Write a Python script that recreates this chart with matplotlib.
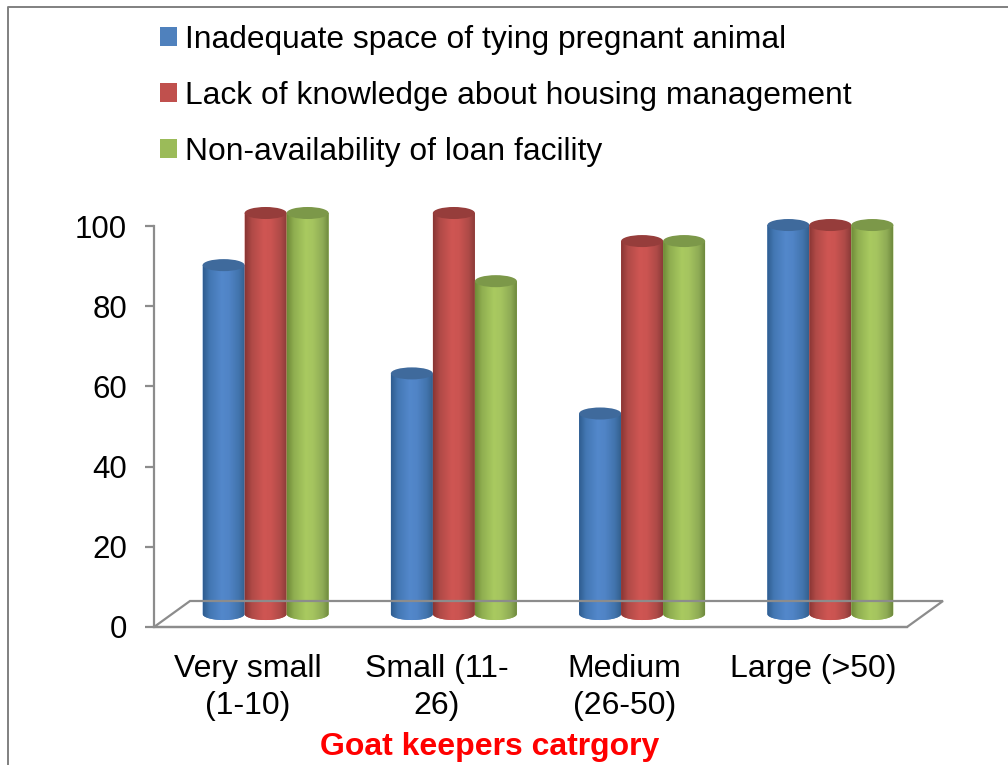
import numpy as np
import matplotlib
matplotlib.use("Agg")
import matplotlib.pyplot as plt
from matplotlib.path import Path
from matplotlib.patches import PathPatch, Patch, Ellipse
from matplotlib.transforms import ScaledTranslation

plt.rcParams['font.family'] = ['Liberation Sans', 'DejaVu Sans']

categories = ["Very small\n(1-10)", "Small (11-\n26)", "Medium\n(26-50)", "Large (>50)"]
series_names = ["Inadequate space of tying pregnant animal",
                "Lack of knowledge about housing management",
                "Non-availability of loan facility"]
inadequate_space = [87, 60, 50, 97]
lack_knowledge = [100, 100, 93, 97]
no_loan = [100, 83, 93, 97]
y_ticks = [0, 20, 40, 60, 80, 100]

series = [inadequate_space, lack_knowledge, no_loan]
solid = ["#4f81bd", "#c0504d", "#9bbb59"]
tops = ["#3f6a9c", "#963d3b", "#7c9849"]
shades = [["#2f5d90", "#4377b3", "#5388cb", "#5084c6", "#4274ad", "#34618f"],
          ["#8a3634", "#b04a47", "#cf5653", "#cb5451", "#ad4a47", "#8c3b39"],
          ["#6f8b38", "#8fae50", "#a9ca60", "#a5c45f", "#8eab55", "#6f8a3e"]]
grey = "#8c8c8c"

W, H = 1008, 765
fig = plt.figure(figsize=(W / 100, H / 100), dpi=100, facecolor="white")
# axes box = front edge of the chart floor, in pixels
left, right, top, bottom = 154, 907, 226, 627
ax = fig.add_axes([left / W, 1 - bottom / H, (right - left) / W, (bottom - top) / H])
ax.set_xlim(-0.5, 3.5)
ax.set_ylim(0, 100)
ax.patch.set_visible(False)

# shift of the bars back onto the floor (3d look), in inches
shift = ax.transData + ScaledTranslation(17.5 / 100, 13 / 100, fig.dpi_scale_trans)

# floor outline
fig.add_artist(plt.Polygon(
    [[154 / W, 1 - 627 / H], [190 / W, 1 - 601 / H], [943 / W, 1 - 601 / H], [907 / W, 1 - 627 / H]],
    closed=True, fill=False, edgecolor=grey, linewidth=1.6, transform=fig.transFigure, zorder=1))

bar_w = 42 / 188.25
ell_h = 3.0
gradient_x = [0, 0.16, 0.45, 0.62, 0.86, 1]


def cylinder(x, value, i):
    x0, x1 = x - bar_w / 2, x + bar_w / 2
    t = np.linspace(np.pi, 2 * np.pi, 40)
    low = np.column_stack([x + bar_w / 2 * np.cos(t), ell_h / 2 * np.sin(t)])
    verts = np.vstack([low, [[x1, value], [x0, value]], low[:1]])
    body = PathPatch(Path(verts), facecolor=solid[i], edgecolor="none", transform=shift,
                     zorder=3 + i, clip_on=False)
    ax.add_patch(body)
    rgb = np.array([matplotlib.colors.to_rgb(c) for c in shades[i]])
    u = np.linspace(0, 1, 64)
    img = np.stack([np.interp(u, gradient_x, rgb[:, k]) for k in range(3)], axis=-1)[None, :, :]
    im = ax.imshow(img, extent=[x0, x1, -ell_h, value], aspect="auto", transform=shift,
                   interpolation="bilinear", zorder=3 + i)
    im.set_clip_path(body)
    im.set_clip_box(fig.bbox)
    ax.add_patch(Ellipse((x, value), bar_w, ell_h, facecolor=tops[i], edgecolor="none",
                         transform=shift, zorder=3 + i, clip_on=False))


for i, vals in enumerate(series):
    for j, v in enumerate(vals):
        cylinder(j + (i - 1) * bar_w, v, i)

ax.set_xlim(-0.5, 3.5)
ax.set_ylim(0, 100)

for s in ["top", "right"]:
    ax.spines[s].set_visible(False)
ax.spines["left"].set_color(grey)
ax.spines["left"].set_linewidth(1.6)
ax.spines["bottom"].set_color(grey)
ax.spines["bottom"].set_linewidth(1.6)

ax.set_yticks(y_ticks)
ax.set_xticks(range(len(categories)))
ax.set_xticklabels(categories, linespacing=1.3)
ax.tick_params(axis="y", labelsize=22.5, length=6.5, width=1.6, color=grey, pad=13)
ax.tick_params(axis="x", labelsize=23, length=0, pad=19.5)

handles = [Patch(facecolor=c, edgecolor="none") for c in solid]
fig.legend(handles, series_names, loc="upper left", bbox_to_anchor=(160 / W, 1 - 25 / H),
           bbox_transform=fig.transFigure, frameon=False, fontsize=22.9, borderpad=0, borderaxespad=0,
           handlelength=0.53, handleheight=0.53, handletextpad=0.25, labelspacing=0.81)

fig.text(490 / W, 1 - 747 / H, "Goat keepers catrgory", color="#ff0000", fontsize=23,
         fontweight="bold", ha="center", va="center")

# page border behind the chart
fig.add_artist(plt.Line2D([8 / W, 8 / W, 1], [0, 1 - 7 / H, 1 - 7 / H], color="#808080", linewidth=1.4))

fig.savefig("out.png", dpi=100)
